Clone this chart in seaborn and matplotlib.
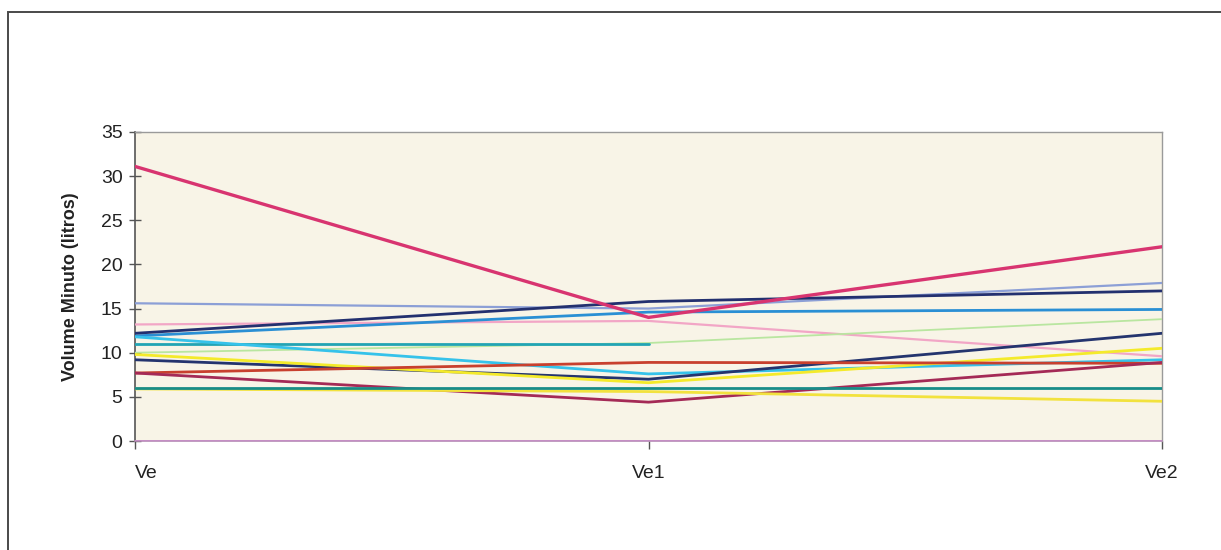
import numpy as np
import pandas as pd
import matplotlib
matplotlib.use("Agg")
import matplotlib.pyplot as plt
from matplotlib.patches import Rectangle
import seaborn as sns

# Minute volume (litres) per subject at the three measurement points
categories = ["Ve", "Ve1", "Ve2"]

s_zero      = [0.0, 0.0, 0.0]
s_lavender  = [15.6, 15.0, 17.9]
s_pink      = [13.2, 13.6, 9.6]
s_lightgrn  = [10.0, 11.1, 13.8]
s_teal      = [11.0, 11.0, np.nan]
s_blue      = [11.9, 14.6, 14.9]
s_cyan      = [11.8, 7.6, 9.2]
s_navy2     = [9.2, 7.0, 12.2]
s_yellow    = [9.8, 6.6, 10.5]
s_red       = [7.7, 8.9, 8.8]
s_maroon    = [7.7, 4.4, 8.9]
s_yellow2   = [5.9, 5.6, 4.5]
s_green     = [6.0, 6.0, 6.0]
s_navy      = [12.2, 15.8, 17.0]
s_crimson   = [31.1, 14.0, 22.0]

series = {
    "S14": s_zero, "S2": s_lavender, "S5": s_pink, "S15": s_lightgrn,
    "S6": s_teal, "S4": s_blue, "S7": s_cyan, "S8": s_navy2,
    "S9": s_yellow, "S10": s_red, "S11": s_maroon, "S13": s_yellow2,
    "S12": s_green, "S3": s_navy, "S1": s_crimson,
}
colors = {
    "S14": "#c68cc6", "S2": "#8c9fd6", "S5": "#f2a6c6", "S15": "#b9e6a0",
    "S6": "#22a4b4", "S4": "#2a8fd4", "S7": "#36c2ea", "S8": "#24346e",
    "S9": "#f4ea2a", "S10": "#c8402e", "S11": "#a42a56", "S13": "#f2e23e",
    "S12": "#188c88", "S3": "#23306f", "S1": "#d83470",
}
widths = {k: 2.0 for k in series}
widths.update({"S1": 2.4, "S15": 1.3, "S2": 1.6, "S5": 1.6, "S14": 1.2})

rows = []
for name, vals in series.items():
    for i, (c, v) in enumerate(zip(categories, vals)):
        if not np.isnan(v):
            rows.append({"serie": name, "x": i, "ponto": c, "valor": v})
df = pd.DataFrame(rows)

sns.set_theme(style="white")
plt.rcParams["font.family"] = ["Liberation Sans", "DejaVu Sans"]

fig = plt.figure(figsize=(12.21, 5.5), dpi=100)
fig.patch.set_facecolor("white")

# Outer chart frame
fig.add_artist(Rectangle((8 / 1221, -0.05), 1.2, 1 - 12 / 550 + 0.05,
                         transform=fig.transFigure, fill=False,
                         edgecolor="#4a4a4a", linewidth=1.4))

ax = fig.add_axes([135 / 1221, 1 - 441 / 550, (1162 - 135) / 1221, (441 - 132) / 550])
ax.set_facecolor("#f8f4e7")

for name in series:
    sub = df[df["serie"] == name]
    sns.lineplot(data=sub, x="x", y="valor", ax=ax, color=colors[name],
                 linewidth=widths[name], sort=False, estimator=None,
                 legend=False, zorder=3)

ax.set_xlim(0, 2)
ax.set_ylim(0, 35)
ax.set_yticks(np.arange(0, 36, 5))
ax.set_xticks([0, 1, 2])
ax.set_xticklabels(categories)
ax.get_xticklabels()[0].set_horizontalalignment("left")

ax.tick_params(axis="y", direction="inout", length=8, width=1, color="#555555",
               labelsize=14, pad=5, labelcolor="#222222", left=True)
ax.tick_params(axis="x", direction="out", length=6, width=1, color="#555555",
               labelsize=14, pad=11, labelcolor="#222222", bottom=True)

for side in ["top", "right"]:
    ax.spines[side].set_color("#9a9a9a")
    ax.spines[side].set_linewidth(1.0)
    ax.spines[side].set_linestyle((0, (2, 1)))
ax.spines["left"].set_color("#555555")
ax.spines["left"].set_linewidth(1.2)
ax.spines["bottom"].set_color("#b58ab5")
ax.spines["bottom"].set_linewidth(1.2)

ax.set_xlabel("")
ax.set_ylabel("Volume Minuto (litros)", fontsize=13, fontweight="bold",
              color="#222222", labelpad=16)
ax.grid(False)

fig.savefig("out.png", dpi=100, facecolor="white")
